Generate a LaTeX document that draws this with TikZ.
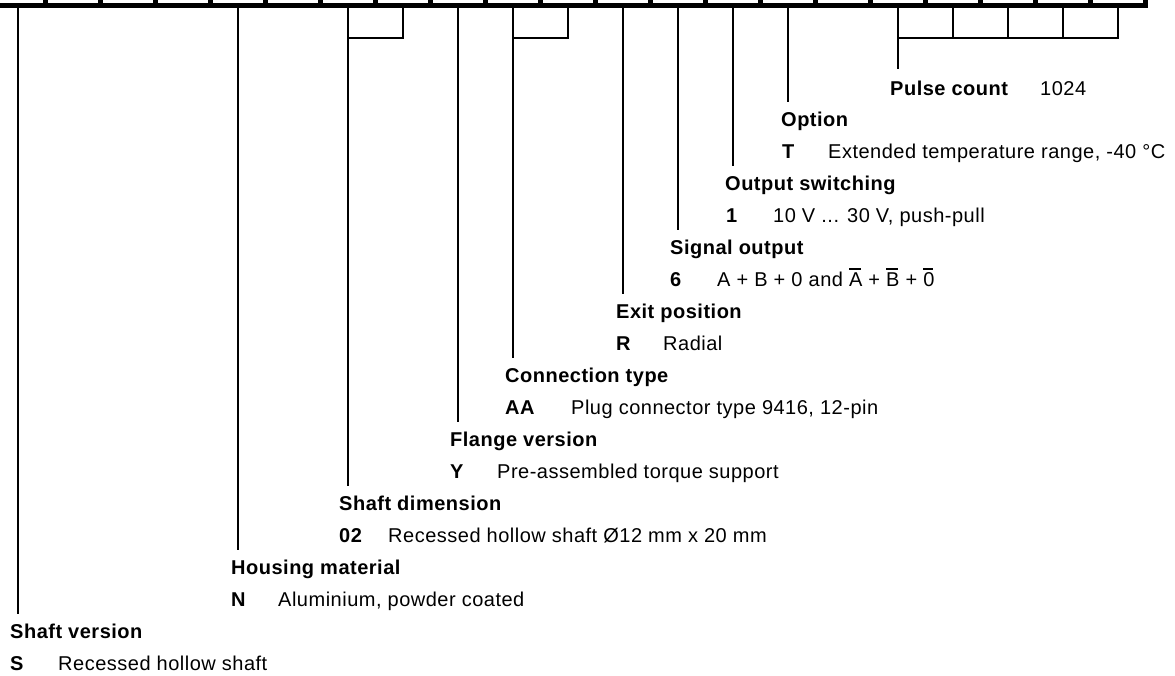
\documentclass[tikz,border=0pt]{standalone}
\usepackage{fontspec}
\setmainfont{Liberation Sans}[LetterSpace=2.5]
\newcommand\ovl[1]{\setbox0\hbox{#1}\rlap{\raisebox{\dimexpr\ht0+2.2pt\relax}{\rule{0.9\wd0}{1.7pt}}}\box0\relax}
\begin{document}
\begin{tikzpicture}[x=1pt,y=-1pt,
  lead/.style={line width=1.7pt},
  txt/.style={anchor=base west, inner sep=0pt, font=\fontsize{20}{24}\selectfont},
  hd/.style={txt, font=\fontsize{20}{24}\selectfont\bfseries},
  code/.style={hd}]
\useasboundingbox (0,0) rectangle (1175,675);
% code bar with cell dividers
\fill (-10,3.3) rectangle (1148,8.3);
\foreach \k in {0,...,20} \fill ({45.5+55*\k-2.5},-5) rectangle ({45.5+55*\k+2.5},8.3);
\foreach \k in {0,...,20} \coordinate (c\k) at ({18+55*\k},8.3);
\coordinate (bry) at (0,37.7);

% headings and values
\node[hd]  (h0) at (781,126.3) {Option};
\node[code] (k0) at (782,158) {T};
\node[txt]  (v0) at (828,158) {Extended temperature range, -40 °C};

\node[hd]  (h1) at (725,190.3) {Output switching};
\node[code] (k1) at (726,222) {1};
\node[txt]  (v1) at (773,222) {10 V ... 30 V, push-pull};

\node[hd]  (h2) at (670,254.3) {Signal output};
\node[code] (k2) at (670,286) {6};
\node[txt]  (v2) at (717,286) {A + B + 0 and \ovl{A} + \ovl{B} + \ovl{0}};

\node[hd]  (h3) at (616,318.3) {Exit position};
\node[code] (k3) at (616,350) {R};
\node[txt]  (v3) at (663,350) {Radial};

\node[hd]  (h4) at (505,382.3) {Connection type};
\node[code] (k4) at (505,414) {AA};
\node[txt]  (v4) at (571,414) {Plug connector type 9416, 12-pin};

\node[hd]  (h5) at (450,446.3) {Flange version};
\node[code] (k5) at (450,478) {Y};
\node[txt]  (v5) at (497,478) {Pre-assembled torque support};

\node[hd]  (h6) at (339,510.3) {Shaft dimension};
\node[code] (k6) at (339,542) {02};
\node[txt]  (v6) at (388,542) {Recessed hollow shaft Ø12 mm x 20 mm};

\node[hd]  (h7) at (231,574.3) {Housing material};
\node[code] (k7) at (231,606) {N};
\node[txt]  (v7) at (278,606) {Aluminium, powder coated};

\node[hd]  (h8) at (10,638.3) {Shaft version};
\node[code] (k8) at (10,670) {S};
\node[txt]  (v8) at (58,670) {Recessed hollow shaft};

\node[hd]  (hp) at (890,95) {Pulse count};
\node[txt] (vp) at (1040,95) {1024};

% leader ends
\coordinate (e0) at (788,101.5);
\coordinate (e1) at (733,165.5);
\coordinate (e2) at (678,229.5);
\coordinate (e3) at (623,293.5);
\coordinate (e4) at (513,357.5);
\coordinate (e5) at (458,421.5);
\coordinate (e6) at (348,485.5);
\coordinate (e7) at (238,549.5);
\coordinate (e8) at (18,613.5);
\coordinate (ep) at (898,69);

% leaders
\draw[lead] (c14) -- (e0);
\draw[lead] (c13) -- (e1);
\draw[lead] (c12) -- (e2);
\draw[lead] (c11) -- (e3);
\draw[lead] (c9) -- (e4);
\draw[lead] (c10) |- (c9|-bry);
\draw[lead] (c8) -- (e5);
\draw[lead] (c6) -- (e6);
\draw[lead] (c7) |- (c6|-bry);
\draw[lead] (c4) -- (e7);
\draw[lead] (c0) -- (e8);
\draw[lead] (c16) -- (ep);
\draw[lead] (c20) |- (c16|-bry);
\foreach \k in {17,18,19} \draw[lead] (c\k) -- (c\k|-bry);
\end{tikzpicture}
\end{document}
